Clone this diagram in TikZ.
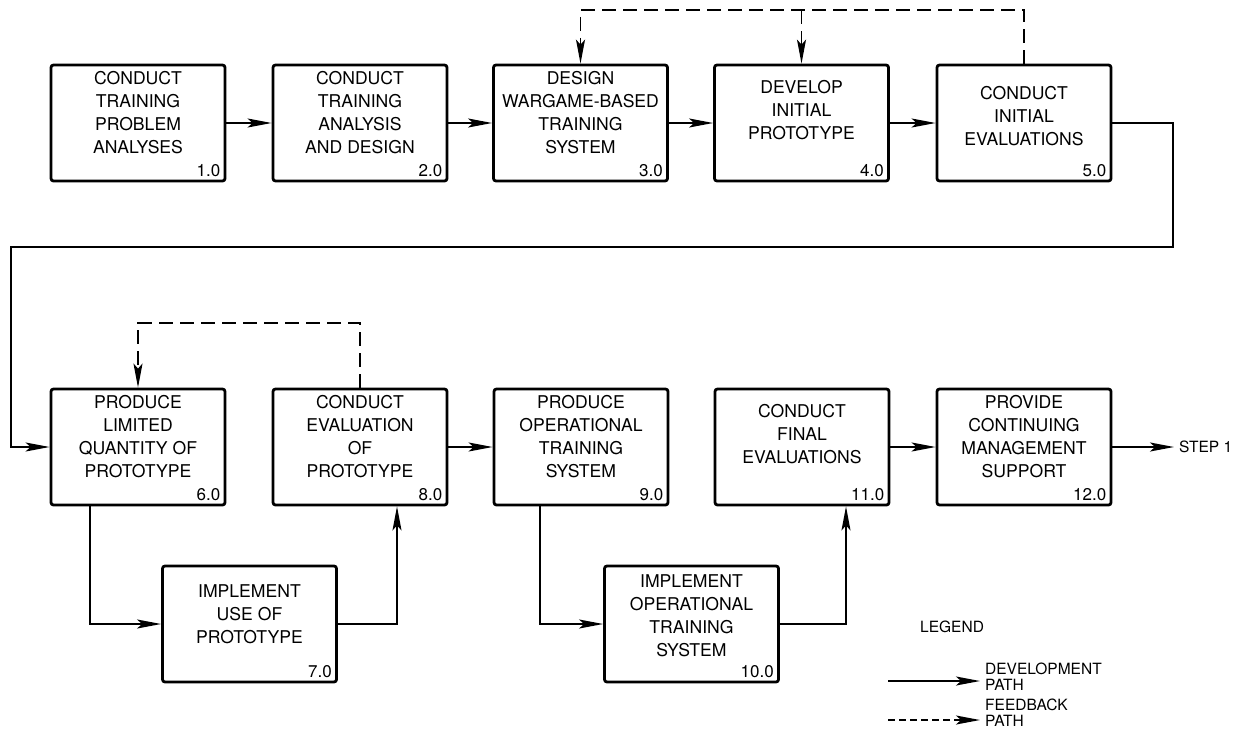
\documentclass[tikz,border=0pt]{standalone}
\usepackage{fontspec}
\setmainfont{TeX Gyre Heros}
\usetikzlibrary{arrows.meta}
\begin{document}
\begin{tikzpicture}[x=1pt, y=-1pt,
  box/.style={draw, line width=2.8pt, rounded corners=2.5pt, minimum width=174pt, minimum height=116pt, inner sep=0pt},
  txt/.style={align=center, font=\fontsize{17.6}{23}\selectfont, inner sep=0pt},
  num/.style={anchor=south east, font=\fontsize{17}{18}\selectfont, inner xsep=6pt, inner ysep=5pt},
  dev/.style={line width=1.8pt, -{Stealth[length=24pt, width=9pt, inset=5pt]}},
  fb/.style={dev, dash pattern=on 14pt off 7pt},
  small/.style={font=\fontsize{15.5}{16}\selectfont, align=left, anchor=west, inner xsep=5pt, inner ysep=0pt}]
\useasboundingbox (0,0) rectangle (1238,728);
\begin{scope}
\node[box] (b1) at (138,123) {};
\node[txt] (t1) at ([yshift=10pt]b1.center) {CONDUCT\\TRAINING\\PROBLEM\\ANALYSES};
\node[num] (n1) at (b1.south east) {1.0};
\node[box] (b2) at (360,123) {};
\node[txt] (t2) at ([yshift=10pt]b2.center) {CONDUCT\\TRAINING\\ANALYSIS\\AND DESIGN};
\node[num] (n2) at (b2.south east) {2.0};
\node[box] (b3) at (580.5,123) {};
\node[txt] (t3) at ([yshift=10pt]b3.center) {DESIGN\\WARGAME-BASED\\TRAINING\\SYSTEM};
\node[num] (n3) at (b3.south east) {3.0};
\node[box] (b4) at (801.5,123) {};
\node[txt] (t4) at ([yshift=13pt]b4.center) {DEVELOP\\INITIAL\\PROTOTYPE};
\node[num] (n4) at (b4.south east) {4.0};
\node[box] (b5) at (1024,123) {};
\node[txt] (t5) at ([yshift=7pt]b5.center) {CONDUCT\\INITIAL\\EVALUATIONS};
\node[num] (n5) at (b5.south east) {5.0};
\node[box] (b6) at (138,447) {};
\node[txt] (t6) at ([yshift=10pt]b6.center) {PRODUCE\\LIMITED\\QUANTITY OF\\PROTOTYPE};
\node[num] (n6) at (b6.south east) {6.0};
\node[box] (b7) at (249.5,624) {};
\node[txt] (t7) at ([yshift=10pt]b7.center) {IMPLEMENT\\USE OF\\PROTOTYPE};
\node[num] (n7) at (b7.south east) {7.0};
\node[box] (b8) at (360,447) {};
\node[txt] (t8) at ([yshift=10pt]b8.center) {CONDUCT\\EVALUATION\\OF\\PROTOTYPE};
\node[num] (n8) at (b8.south east) {8.0};
\node[box] (b9) at (581,447) {};
\node[txt] (t9) at ([yshift=10pt]b9.center) {PRODUCE\\OPERATIONAL\\TRAINING\\SYSTEM};
\node[num] (n9) at (b9.south east) {9.0};
\node[box] (b10) at (691.5,624) {};
\node[txt] (t10) at ([yshift=8pt]b10.center) {IMPLEMENT\\OPERATIONAL\\TRAINING\\SYSTEM};
\node[num] (n10) at (b10.south east) {10.0};
\node[box] (b11) at (802,447) {};
\node[txt] (t11) at ([yshift=13pt]b11.center) {CONDUCT\\FINAL\\EVALUATIONS};
\node[num] (n11) at (b11.south east) {11.0};
\node[box] (b12) at (1024,447) {};
\node[txt] (t12) at ([yshift=10pt]b12.center) {PROVIDE\\CONTINUING\\MANAGEMENT\\SUPPORT};
\node[num] (n12) at (b12.south east) {12.0};
\node[small] (step) at (1174,447) {STEP 1};
%legend
\node[small] (legend) at (915,627) {LEGEND};
\node[small] (devtxt) at (980,677) {DEVELOPMENT\\PATH};
\node[small] (fbtxt) at (980,713) {FEEDBACK\\PATH};
\end{scope}
\begin{scope}
\coordinate (top1) at (1024,10);
\coordinate (top2) at (360,323);
\coordinate (r1) at (1173,247);
\coordinate (l1) at (11,247);
\coordinate (d0) at (888,681);
\coordinate (f0) at (888,720);
\draw[dev] (b1) -- (b2);
\draw[dev] (b2) -- (b3);
\draw[dev] (b3) -- (b4);
\draw[dev] (b4) -- (b5);
\draw[fb] (b5.north) -- (top1) -| (b3.north);
\draw[fb] (b4.north |- top1) -- (b4.north);
\draw[dev] (b5.east) -| (r1) -- (l1) |- (b6.west);
\draw[fb] (b8.north) -- (top2) -| (b6.north);
\draw[dev] ([xshift=-48pt]b6.south) |- (b7.west);
\draw[dev] (b7.east) -| ([xshift=37pt]b8.south);
\draw[dev] (b8) -- (b9);
\draw[dev] ([xshift=-41pt]b9.south) |- (b10.west);
\draw[dev] (b10.east) -| ([xshift=44pt]b11.south);
\draw[dev] (b11) -- (b12);
\draw[dev] (b12.east) -- (step.west);
\draw[dev] (d0) -- (d0 -| devtxt.west);
\draw[fb, dash pattern=on 7pt off 4pt] (f0) -- (f0 -| fbtxt.west);
\end{scope}
\end{tikzpicture}
\end{document}
